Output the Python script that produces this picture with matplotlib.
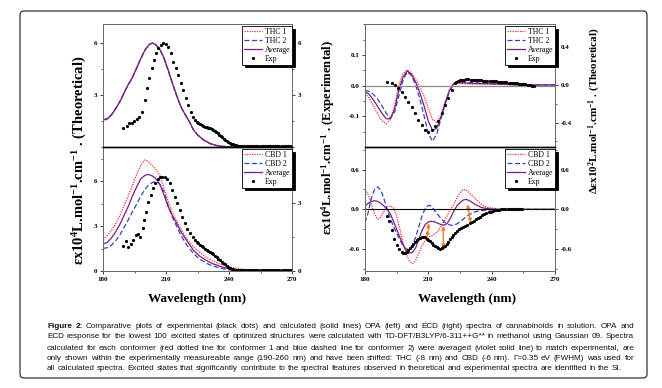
import matplotlib
matplotlib.use('Agg')
import matplotlib.pyplot as plt
from matplotlib.lines import Line2D
from matplotlib.patches import FancyBboxPatch
from matplotlib.ticker import MultipleLocator
from matplotlib.transforms import IdentityTransform
from matplotlib import font_manager as fm

plt.rcParams['font.family'] = ['Liberation Serif', 'DejaVu Serif']
plt.rcParams['mathtext.default'] = 'regular'

# ---------------- data ----------------
# OPA THC (top-left), theoretical, eps x10^4
thc_opa_x = [180, 182, 184, 186, 188, 190, 192, 194, 196, 198, 200, 202, 203.5, 205, 207, 209,
             211, 213, 215, 217, 219, 221, 223, 225, 228, 231, 234, 237, 240, 244, 248, 252]
thc1_opa = [1.52, 1.60, 1.84, 2.18, 2.60, 3.10, 3.60, 4.02, 4.55, 5.10, 5.60, 5.92, 6.00, 5.93, 5.68, 5.18,
            4.48, 3.72, 3.02, 2.38, 1.92, 1.50, 1.02, 0.72, 0.41, 0.21, 0.10, 0.04, 0.01, 0.0, 0.0, 0.0]
thc2_opa = [1.58, 1.63, 1.86, 2.22, 2.62, 3.12, 3.60, 4.00, 4.55, 5.10, 5.60, 5.92, 6.00, 5.91, 5.63, 5.12,
            4.42, 3.68, 2.98, 2.33, 1.88, 1.48, 1.00, 0.69, 0.39, 0.19, 0.08, 0.03, 0.01, 0.0, 0.0, 0.0]
avg_thc_opa = [1.56, 1.62, 1.85, 2.20, 2.61, 3.11, 3.60, 4.01, 4.55, 5.10, 5.60, 5.92, 6.00, 5.92, 5.65, 5.15,
               4.45, 3.70, 3.00, 2.35, 1.90, 1.49, 1.01, 0.70, 0.40, 0.20, 0.09, 0.04, 0.01, 0.0, 0.0, 0.0]
exp_thc_opa_x = [189.7, 191.3, 192.4, 193.7, 194.8, 196.0, 197.3, 198.4, 200.0, 201.1, 202.1, 203.3, 204.3,
                 205.2, 206.3, 207.5, 208.7, 210.0, 211.1, 212.4, 213.5, 214.8, 215.9, 217.1, 218.3, 219.5,
                 220.6, 221.7, 222.7, 223.8, 224.6, 225.4, 226.2, 227.0, 227.8, 228.6, 229.4, 230.2, 231.0,
                 231.8, 232.6, 233.3, 234.0, 234.7, 235.4, 236.1, 236.8, 237.5, 238.2, 238.9, 239.6, 240.3,
                 241.0, 241.7, 242.4, 243.1, 243.8, 244.5, 245, 246, 247, 248, 249, 250, 251, 252, 253, 254,
                 255, 256, 257, 258, 259, 260, 261, 262, 263, 264, 265, 266, 267, 268, 269, 270]
exp_thc_opa = [1.08, 1.21, 1.40, 1.40, 1.52, 1.60, 1.75, 2.04, 2.71, 3.39, 3.96, 4.54, 5.02,
               5.40, 5.69, 5.88, 5.98, 5.94, 5.79, 5.40, 4.92, 4.54, 4.15, 3.67, 3.29, 2.81,
               2.42, 2.04, 1.75, 1.56, 1.45, 1.37, 1.31, 1.27, 1.22, 1.17, 1.14, 1.11, 1.07,
               1.04, 0.99, 0.94, 0.87, 0.80, 0.72, 0.64, 0.57, 0.49, 0.40, 0.32, 0.26, 0.21,
               0.18, 0.15, 0.12, 0.10, 0.08, 0.07, 0.06, 0.06, 0.06, 0.06, 0.06, 0.06, 0.06, 0.06, 0.06, 0.06,
               0.06, 0.06, 0.06, 0.06, 0.06, 0.06, 0.06, 0.06, 0.06, 0.06, 0.06, 0.06, 0.06, 0.06, 0.06, 0.06]

# OPA CBD (bottom-left)
cbd1_opa_x = [180, 182, 184, 186, 188, 190, 192, 194, 196, 198, 199.7, 201, 203, 205, 207, 209, 211, 213,
              215, 217, 219, 221, 223, 226, 229, 232, 235, 238, 242, 246, 250, 252]
cbd1_opa = [2.11, 2.35, 2.70, 3.15, 3.70, 4.35, 5.00, 5.70, 6.45, 7.05, 7.40, 7.35, 7.10, 6.80, 6.40, 5.55, 4.65,
            3.90, 3.35, 2.85, 2.35, 1.95, 1.62, 1.25, 0.92, 0.70, 0.50, 0.36, 0.22, 0.12, 0.05, 0.03]
cbd2_opa_x = [180, 182, 184, 186, 188, 190, 192, 194, 196, 198, 200, 202, 204, 205.6, 207, 209, 211, 213,
              215, 217, 220, 223, 226, 229, 232, 236, 240, 245, 250, 252]
cbd2_opa = [1.51, 1.55, 1.72, 2.00, 2.40, 2.90, 3.40, 3.95, 4.45, 5.00, 5.45, 5.78, 5.93, 5.96, 5.80, 5.30,
            4.35, 3.60, 3.00, 2.40, 1.72, 1.18, 0.80, 0.53, 0.35, 0.18, 0.08, 0.03, 0.01, 0.0]
avg_cbd_opa_x = [180, 182, 184, 186, 188, 190, 192, 194, 196, 198, 200, 201.3, 203, 205, 207, 209, 211, 213,
                 215, 217, 220, 223, 226, 229, 232, 236, 240, 245, 250, 252]
avg_cbd_opa = [1.80, 1.90, 2.20, 2.60, 3.10, 3.70, 4.30, 5.00, 5.60, 6.15, 6.38, 6.44, 6.38, 6.18, 5.80, 5.10,
               4.30, 3.70, 3.20, 2.65, 2.00, 1.40, 1.00, 0.72, 0.50, 0.30, 0.15, 0.06, 0.02, 0.01]
exp_cbd_opa_x = [189.7, 190.8, 192.1, 193.2, 194.4, 195.7, 196.8, 197.6, 198.9, 199.7, 200.5, 201.6, 202.7,
                 204.0, 204.9, 206.0, 207.1, 208.3, 209.5, 210.6, 211.9, 213.0, 214.3, 215.4, 216.7, 217.8,
                 219.0, 220.2, 221.4, 222.7, 223.8, 224.6, 225.4, 226.2, 227.0, 227.8, 228.6, 229.4, 230.2,
                 231.0, 231.8, 232.6, 233.3, 234.1, 234.9, 235.7, 236.5, 237.3, 238.1, 238.9, 239.7, 240.5,
                 241.3, 242.1, 242.9, 243.7, 244.5, 245, 246, 247, 248, 249, 250, 251, 252, 253, 254, 255, 256,
                 257, 258, 259, 260, 261, 262, 263, 264, 265, 266, 267, 268, 269, 270]
exp_cbd_opa = [1.10, 1.34, 1.07, 1.19, 1.37, 1.59, 1.63, 1.51, 1.88, 2.25, 2.62, 3.06, 3.35,
               3.65, 3.87, 4.04, 4.13, 4.16, 4.13, 4.04, 3.87, 3.57, 3.28, 2.99, 2.69, 2.40,
               2.10, 1.84, 1.66, 1.51, 1.37, 1.29, 1.22, 1.16, 1.10, 1.04, 0.98, 0.93, 0.88,
               0.83, 0.78, 0.73, 0.68, 0.61, 0.54, 0.47, 0.41, 0.35, 0.29, 0.24, 0.19, 0.14,
               0.10, 0.07, 0.05, 0.04, 0.03, 0.03, 0.03, 0.03, 0.03, 0.03, 0.03, 0.03, 0.03, 0.03, 0.03, 0.03, 0.03,
               0.03, 0.03, 0.03, 0.03, 0.03, 0.03, 0.03, 0.03, 0.03, 0.03, 0.03, 0.03, 0.03, 0.03]

# ECD THC (top-right): theory on right axis, experiment on left axis
thc_cd_x = [180, 182, 184, 186, 188, 190, 192, 194, 196, 198, 200, 202, 204, 206, 208, 210, 212, 214, 216,
            218, 220, 222, 224, 227, 230, 235, 240, 245, 250, 255, 260, 265, 270]
thc1_cd = [-0.09, -0.14, -0.22, -0.31, -0.38, -0.415, -0.37, -0.22, 0.0, 0.12, 0.16, 0.13, 0.06, -0.02, -0.12,
           -0.25, -0.37, -0.40, -0.32, -0.18, -0.05, 0.02, 0.02, 0.015, 0.01, 0.01, 0.01, 0.005, 0.0, 0.0, 0.0, 0.0, 0.0]
thc2_cd = [-0.055, -0.07, -0.10, -0.15, -0.22, -0.30, -0.355, -0.29, -0.12, 0.05, 0.14, 0.10, 0.0, -0.15, -0.33,
           -0.52, -0.60, -0.52, -0.36, -0.20, -0.07, 0.01, 0.03, 0.03, 0.025, 0.02, 0.015, 0.01, 0.005, 0.0, 0.0, 0.0, 0.0]
avg_thc_cd = [-0.07, -0.10, -0.16, -0.23, -0.30, -0.36, -0.36, -0.26, -0.06, 0.085, 0.15, 0.115, 0.03, -0.085,
              -0.225, -0.385, -0.485, -0.46, -0.34, -0.19, -0.06, 0.015, 0.025, 0.022, 0.018, 0.015, 0.012, 0.008,
              0.004, 0.0, 0.0, 0.0, 0.0]
exp_thc_cd_x = [190.6, 192.6, 194.2, 195.8, 197.4, 198.9, 200.5, 202.1, 203.7, 205.3, 206.8, 208.4, 210.0,
                211.6, 213.2, 214.7, 216.3, 217.9, 219.5, 221.1, 222.6, 223, 224, 225, 226, 227, 228, 229, 230,
                231, 232, 233, 234, 235, 236, 237, 238, 239, 240, 241, 242, 243, 244, 245, 246, 247, 248, 249,
                250, 251, 252, 253, 254, 255, 256, 257, 258, 259, 260]
exp_thc_cd = [0.011, 0.008, 0.002, -0.009, -0.020, -0.036, -0.052, -0.070, -0.090, -0.112, -0.128, -0.144, -0.150,
              -0.144, -0.131, -0.114, -0.090, -0.063, -0.041, -0.014, 0.008, 0.011, 0.014, 0.017, 0.019, 0.020,
              0.021, 0.021, 0.020, 0.020, 0.019, 0.019, 0.018, 0.017, 0.016, 0.016, 0.015, 0.015, 0.015, 0.014,
              0.014, 0.013, 0.013, 0.012, 0.012, 0.011, 0.010, 0.010, 0.009, 0.008, 0.008, 0.007, 0.006, 0.005,
              0.004, 0.003, 0.001, 0.0, -0.001]

# ECD CBD (bottom-right)
cbd_cd_x = [180, 181.5, 183, 184.5, 186, 187.5, 189, 190.5, 192, 193.5, 195, 196.5, 198, 199.5, 201, 202.5,
            204, 205.5, 207, 208.5, 210, 211.5, 213, 214.5, 216, 217.5, 219, 220.5, 222, 223.5, 225, 226.5,
            228, 229.5, 231, 233, 235, 237, 240, 245, 250, 255, 260, 265, 270]
cbd1_cd = [0.30, 0.22, 0.08, -0.07, -0.15, -0.12, -0.03, 0.04, 0.05, 0.02, -0.10, -0.30, -0.50, -0.67, -0.78,
           -0.82, -0.77, -0.66, -0.55, -0.47, -0.42, -0.40, -0.37, -0.33, -0.26, -0.18, -0.09, 0.0, 0.07, 0.17,
           0.25, 0.30, 0.29, 0.25, 0.20, 0.14, 0.08, 0.04, 0.02, 0.0, 0.0, 0.0, 0.0, 0.0, 0.0]
cbd2_cd = [-0.20, -0.05, 0.17, 0.30, 0.34, 0.29, 0.16, 0.0, -0.14, -0.26, -0.36, -0.46, -0.55, -0.60, -0.60,
           -0.54, -0.42, -0.26, -0.10, 0.01, 0.06, 0.05, -0.02, -0.08, -0.14, -0.19, -0.22, -0.24, -0.24, -0.22,
           -0.19, -0.15, -0.11, -0.08, -0.05, -0.03, -0.02, -0.015, -0.01, -0.01, -0.005, 0.0, 0.0, 0.0, 0.0]
avg_cbd_cd = [0.05, 0.09, 0.12, 0.13, 0.12, 0.09, 0.05, 0.0, -0.07, -0.18, -0.30, -0.42, -0.53, -0.62, -0.66,
              -0.65, -0.58, -0.45, -0.32, -0.23, -0.19, -0.18, -0.19, -0.21, -0.23, -0.24, -0.21, -0.13, -0.03,
              0.05, 0.10, 0.14, 0.15, 0.13, 0.10, 0.06, 0.03, 0.015, 0.005, -0.005, 0.0, 0.0, 0.0, 0.0, 0.0]
exp_cbd_cd_x = [190.3, 191.5, 192.6, 193.7, 195.0, 196.2, 197.4, 198.2, 198.9, 199.7, 200.5, 201.3, 202.1,
                202.9, 203.7, 204.5, 205.3, 206.0, 206.8, 207.6, 208.4, 209.2, 210.0, 210.8, 211.6, 212.4,
                213.2, 213.9, 214.7, 215.5, 216.3, 217.1, 217.9, 218.7, 219.5, 220.3, 221.1, 221.8, 222.6,
                223.5, 224.5, 225.5, 226.5, 227.5, 228.5, 229.5, 230.5, 231.5, 232.5, 233.5, 234.5, 235.5,
                236.5, 237.5, 238.5, 239.5, 240.5, 241.5, 242.5, 243.5, 244.5, 245.5, 246.5, 247.5, 248.5,
                249.5, 250.5, 251.5, 252.5, 253.5, 254.5]
exp_cbd_cd = [-0.10, -0.17, -0.31, -0.45, -0.54, -0.60, -0.64, -0.655, -0.66, -0.64, -0.61, -0.585, -0.56,
              -0.525, -0.49, -0.465, -0.44, -0.425, -0.41, -0.41, -0.42, -0.44, -0.46, -0.485, -0.51, -0.535,
              -0.56, -0.575, -0.59, -0.595, -0.59, -0.575, -0.55, -0.52, -0.49, -0.45, -0.41, -0.38, -0.35,
              -0.32, -0.295, -0.275, -0.26, -0.245, -0.23, -0.21, -0.19, -0.17, -0.15, -0.13, -0.11, -0.09,
              -0.075, -0.06, -0.045, -0.035, -0.025, -0.015, -0.01, -0.005, 0.0, 0.005, 0.008, 0.01, 0.01,
              0.01, 0.01, 0.01, 0.008, 0.005, 0.0]

# double arrows (experiment vs average correspondence), bottom-right
arrow_x0 = [210.2, 217.1, 228.6]
arrow_y0 = [-0.21, -0.25, 0.075]
arrow_x1 = [209.5, 217.1, 230.0]
arrow_y1 = [-0.42, -0.59, -0.20]

xticks = [180, 210, 240, 270]
legend_thc = ['THC 1', 'THC 2', 'Average', 'Exp']
legend_cbd = ['CBD 1', 'CBD 2', 'Average', 'Exp']

caption_lines = [
    "Figure 2: Comparative plots of experimental (black dots) and calculated (solid lines) OPA (left) and ECD (right) spectra of cannabinoids in solution. OPA and",
    "ECD response for the lowest 100 excited states of optimized structures were calculated with TD-DFT/B3LYP/6-311++G** in methanol using Gaussian 09. Spectra",
    "calculated for each conformer (red dotted line for conformer 1 and blue dashed line for conformer 2) were averaged (violet solid line) to match experimental, are",
    "only shown within the experimentally measureable range (190-260 nm) and have been shifted: THC (-8 nm) and CBD (-6 nm). \u0393=0.35 eV (FWHM) was used for",
    "all calculated spectra. Excited states that significantly contribute to the spectral features observed in theoretical and experimental spectra are identified in the SI.",
]

# ---------------- style ----------------
RED = '#ff2a2a'
BLUE = '#2f45c0'
PURPLE = '#7a1f84'
ORANGE = '#f07f2a'
SPINE = '#6a6a6a'

W, H = 662, 388
fig = plt.figure(figsize=(W / 100, H / 100), dpi=100)


def axes_px(x0, y0, x1, y1):
    return fig.add_axes([x0 / W, 1 - y1 / H, (x1 - x0) / W, (y1 - y0) / H])


def style_axis(ax, major, minor, show_x):
    for s in ax.spines.values():
        s.set_color(SPINE)
        s.set_linewidth(0.7)
    ax.set_xlim(180, 270)
    ax.set_xticks(xticks)
    ax.xaxis.set_minor_locator(MultipleLocator(15))
    ax.yaxis.set_major_locator(MultipleLocator(major))
    ax.yaxis.set_minor_locator(MultipleLocator(minor))
    ax.tick_params(which='major', length=2.5, width=0.6, direction='out', labelsize=5, pad=1.5,
                   colors='#222222', labelcolor='black')
    ax.tick_params(which='minor', length=1.5, width=0.5, direction='out', colors='#222222')
    ax.tick_params(axis='x', labelbottom=show_x, bottom=show_x, which='both')


lw_t = 0.9
dot = dict(ls='none', marker='o', ms=2.3, color='black', mec='black', mew=0)


def legend(ax, labels):
    handles = [Line2D([], [], color=RED, ls=(0, (1, 1)), lw=0.9),
               Line2D([], [], color=BLUE, ls=(0, (4, 2)), lw=0.9),
               Line2D([], [], color=PURPLE, ls='-', lw=0.9),
               Line2D([], [], **dot)]
    lg = ax.legend(handles, labels, loc='upper right', bbox_to_anchor=(1.0, 0.985), borderaxespad=0,
                   fontsize=5.6, handlelength=2.3, handletextpad=0.3, labelspacing=0.12, borderpad=0.25,
                   fancybox=False, framealpha=1, edgecolor='black',
                   shadow={'color': 'black', 'alpha': 1.0})
    lg.get_frame().set_linewidth(0.6)
    return lg


# top-left: THC OPA
ax = axes_px(103, 24, 292, 147)
ax.plot(thc_opa_x, thc1_opa, color=RED, ls=(0, (1, 1)), lw=lw_t)
ax.plot(thc_opa_x, thc2_opa, color=BLUE, ls=(0, (4, 2)), lw=lw_t)
ax.plot(thc_opa_x, avg_thc_opa, color=PURPLE, lw=lw_t)
ax.set_ylim(0, 7.1)
style_axis(ax, 3, 1.5, False)
ax.set_yticks([3, 6])
ax2 = ax.twinx()
ax2.plot(exp_thc_opa_x, exp_thc_opa, **dot)
ax2.set_ylim(0, 7.1)
style_axis(ax2, 3, 1.5, False)
ax2.set_yticks([3, 6])
legend(ax2, legend_thc)

# bottom-left: CBD OPA
ax = axes_px(103, 147, 292, 271)
ax.plot(cbd1_opa_x, cbd1_opa, color=RED, ls=(0, (1, 1)), lw=lw_t)
ax.plot(cbd2_opa_x, cbd2_opa, color=BLUE, ls=(0, (4, 2)), lw=lw_t)
ax.plot(avg_cbd_opa_x, avg_cbd_opa, color=PURPLE, lw=lw_t)
ax.set_ylim(0, 8.27)
style_axis(ax, 3, 1.5, True)
ax.set_yticks([0, 3, 6])
ax.spines['top'].set_color('black')
ax.spines['top'].set_linewidth(1.0)
ax2 = ax.twinx()
ax2.plot(exp_cbd_opa_x, exp_cbd_opa, **dot)
ax2.set_ylim(0, 5.47)
style_axis(ax2, 3, 1.5, True)
ax2.set_yticks([0, 3])
ax2.spines['top'].set_color('black')
ax2.spines['top'].set_linewidth(1.0)
legend(ax2, legend_cbd)

# top-right: THC ECD
ax = axes_px(365, 24, 555, 147)
ax.axhline(0, color='#8a8a8a', lw=0.9, zorder=0)
ax.plot(exp_thc_cd_x, exp_thc_cd, **dot)
ax.set_ylim(-0.1997, 0.201)
style_axis(ax, 0.1, 0.05, False)
ax.set_yticks([-0.1, 0.0, 0.1])
ax.set_yticklabels(['-0.1', '0.0', '0.1'])
ax2 = ax.twinx()
ax2.plot(thc_cd_x, thc1_cd, color=RED, ls=(0, (1, 1)), lw=lw_t)
ax2.plot(thc_cd_x, thc2_cd, color=BLUE, ls=(0, (4, 2)), lw=lw_t)
ax2.plot(thc_cd_x, avg_thc_cd, color=PURPLE, lw=lw_t)
ax2.set_ylim(-0.661, 0.65)
style_axis(ax2, 0.4, 0.2, False)
ax2.set_yticks([-0.4, 0.0, 0.4])
ax2.set_yticklabels(['-0.4', '0.0', '0.4'])
ax.set_zorder(ax2.get_zorder() + 1)
ax.patch.set_visible(False)
legend(ax, legend_thc)

# bottom-right: CBD ECD
ax = axes_px(365, 147, 555, 271)
ax.axhline(0, color='black', lw=0.8, zorder=0)
ax.plot(exp_cbd_cd_x, exp_cbd_cd, **dot)
ax.set_ylim(-0.93, 0.94)
style_axis(ax, 0.6, 0.3, True)
ax.set_yticks([-0.6, 0.0, 0.6])
ax.set_yticklabels(['-0.6', '0.0', '0.6'])
ax.spines['top'].set_color('black')
ax.spines['top'].set_linewidth(1.0)
ax2 = ax.twinx()
ax2.plot(cbd_cd_x, cbd1_cd, color=RED, ls=(0, (1, 1)), lw=lw_t)
ax2.plot(cbd_cd_x, cbd2_cd, color=BLUE, ls=(0, (4, 2)), lw=lw_t)
ax2.plot(cbd_cd_x, avg_cbd_cd, color=PURPLE, lw=lw_t)
ax2.set_ylim(-0.93, 0.94)
style_axis(ax2, 0.6, 0.3, True)
ax2.set_yticks([-0.6, 0.0, 0.6])
ax2.set_yticklabels(['-0.6', '0.0', '0.6'])
ax2.spines['top'].set_color('black')
ax2.spines['top'].set_linewidth(1.0)
for xa, ya, xb, yb in zip(arrow_x0, arrow_y0, arrow_x1, arrow_y1):
    ax2.annotate('', xy=(xb, yb), xytext=(xa, ya),
                 arrowprops=dict(arrowstyle='<|-|>', color=ORANGE, lw=1.0, mutation_scale=5,
                                 shrinkA=0, shrinkB=0))
ax.set_zorder(ax2.get_zorder() + 1)
ax.patch.set_visible(False)
legend(ax, legend_cbd)
for a in fig.axes:
    for lab in a.get_xticklabels() + a.get_yticklabels():
        lab.set_fontweight('bold')


# ---------------- labels ----------------
def ptext(x, y, s, **kw):
    return fig.text(x / W, 1 - y / H, s, **kw)


ptext(80, 160, 'εx10$^{4}$L.mol$^{-1}$.cm$^{-1}$ . (Theoretical)', rotation=90, ha='center', va='center',
      fontsize=10.5, fontweight='bold')
ptext(328, 138, 'εx10$^{4}$L.mol$^{-1}$.cm$^{-1}$ . (Experimental)', rotation=90, ha='center', va='center',
      fontsize=9.2, fontweight='bold')
ptext(595, 111, 'Δεx10$^{2}$L.mol$^{-1}$.cm$^{-1}$ . (Theoretical)', rotation=90, ha='center', va='center',
      fontsize=8.0, fontweight='bold')
ptext(197, 299, 'Wavelength (nm)', ha='center', va='center', fontsize=9.5, fontweight='bold')
ptext(467, 299, 'Wavelength (nm)', ha='center', va='center', fontsize=9.5, fontweight='bold')

# border
fig.patches.append(FancyBboxPatch((20, H - 378), 627, 367, boxstyle='round,pad=0,rounding_size=4',
                                  transform=IdentityTransform(), fill=False, edgecolor='#333333', lw=0.9))

# caption, justified
renderer = fig.canvas.get_renderer()
cap_family = ['Liberation Sans', 'DejaVu Sans']
try:
    fm.findfont(fm.FontProperties(family='Liberation Sans Narrow'), fallback_to_default=False)
    cap_family = ['Liberation Sans Narrow', 'Liberation Sans', 'DejaVu Sans']
except Exception:
    pass
cap_x0, cap_x1 = 47, 634
cap_y = [326, 337, 348, 359, 369]

# pick a font size that lets the justified lines fill the width with natural spacing
probe_fs = 6.0
maxw = 0
for line in caption_lines[:-1]:
    t = fig.text(0, 0, line, fontsize=probe_fs, family=cap_family)
    maxw = max(maxw, t.get_window_extent(renderer).width)
    t.remove()
cap_fs = probe_fs * (cap_x1 - cap_x0) / maxw * 0.995

for i, line in enumerate(caption_lines):
    words = line.split(' ')
    texts = []
    for j, wd in enumerate(words):
        bold = (i == 0 and j < 2)
        t = ptext(0, cap_y[i], wd, fontsize=cap_fs, family=cap_family,
                  fontweight='bold' if bold else 'normal', va='center', ha='left', color='#111111')
        texts.append(t)
    widths = [t.get_window_extent(renderer).width for t in texts]
    if i < len(caption_lines) - 1:
        gap = (cap_x1 - cap_x0 - sum(widths)) / (len(words) - 1)
    else:
        a1 = fig.text(0, 0, 'a a', fontsize=cap_fs, family=cap_family)
        a2 = fig.text(0, 0, 'aa', fontsize=cap_fs, family=cap_family)
        gap = a1.get_window_extent(renderer).width - a2.get_window_extent(renderer).width
        a1.remove()
        a2.remove()
    x = cap_x0
    for t, wdt in zip(texts, widths):
        t.set_x(x / W)
        x += wdt + gap

fig.savefig('out.png', dpi=100)
